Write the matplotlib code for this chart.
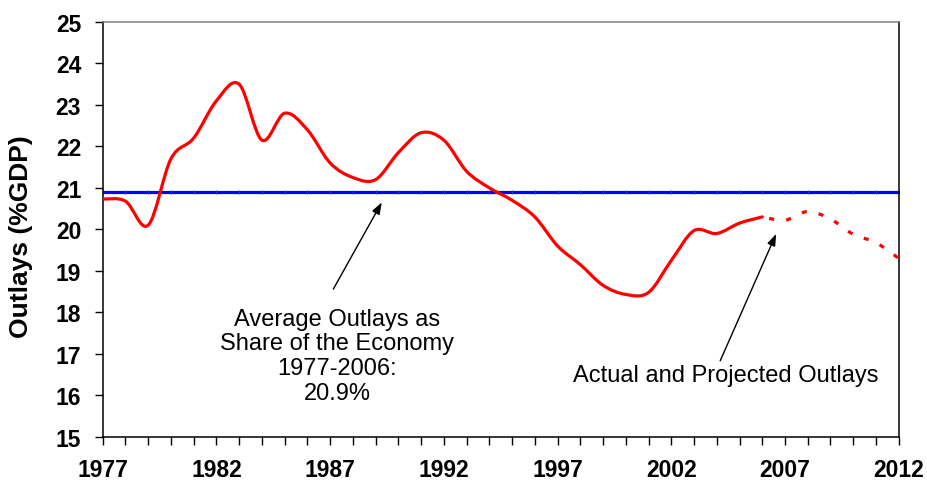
import matplotlib
matplotlib.use("Agg")
import matplotlib.pyplot as plt
from matplotlib.path import Path
from matplotlib.patches import PathPatch
import numpy as np

plt.rcParams['font.family'] = ['Liberation Sans', 'DejaVu Sans']

# ---- data ----
actual_years = list(range(1977, 2007))
actual_outlays = [20.73, 20.68, 20.10, 21.70, 22.20, 23.10, 23.50, 22.15, 22.80, 22.40,
                  21.60, 21.25, 21.20, 21.85, 22.33, 22.15, 21.40, 21.00, 20.70, 20.30,
                  19.60, 19.15, 18.65, 18.43, 18.48, 19.25, 19.97, 19.90, 20.15, 20.30]
proj_years = list(range(2006, 2013))
proj_outlays = [20.30, 20.22, 20.43, 20.25, 19.88, 19.68, 19.30]
avg_value = 20.9
avg_years = list(range(1977, 2013))
xtick_years = list(range(1977, 2013, 5))
ytick_vals = list(range(15, 26))

ann_avg = "Average Outlays as\nShare of the Economy\n1977-2006:\n20.9%"
ann_act = "Actual and Projected Outlays"
ylabel = "Outlays (%GDP)"


def smooth_path(xs, ys):
    xs = np.asarray(xs, float)
    ys = np.asarray(ys, float)
    n = len(xs)
    verts = [(xs[0], ys[0])]
    codes = [Path.MOVETO]
    for i in range(n - 1):
        p0 = np.array([xs[max(i - 1, 0)], ys[max(i - 1, 0)]])
        p1 = np.array([xs[i], ys[i]])
        p2 = np.array([xs[i + 1], ys[i + 1]])
        p3 = np.array([xs[min(i + 2, n - 1)], ys[min(i + 2, n - 1)]])
        c1 = p1 + (p2 - p0) / 6.0
        c2 = p2 - (p3 - p1) / 6.0
        verts += [tuple(c1), tuple(c2), tuple(p2)]
        codes += [Path.CURVE4] * 3
    return Path(verts, codes)


fig = plt.figure(figsize=(9.27, 4.85), dpi=100)
ax = fig.add_axes([0.1108, 0.0975, 0.8587, 0.8551])

# average line
ax.plot(avg_years, [avg_value] * len(avg_years), color='#0000ff', lw=2.3,
        solid_capstyle='butt', zorder=2)
ax.plot(avg_years, [avg_value] * len(avg_years), ls='none', marker='|', ms=3.5,
        mew=0.7, color='#3a3ad0', zorder=2.1)

# actual (solid, smoothed)
ax.add_patch(PathPatch(smooth_path(actual_years, actual_outlays), fill=False,
                       edgecolor='#ff0000', lw=2.3, capstyle='round', joinstyle='round', zorder=3))
# projected (dashed, smoothed)
ax.add_patch(PathPatch(smooth_path(proj_years, proj_outlays), fill=False,
                       edgecolor='#ff0000', lw=2.3, linestyle=(3.2, (1.6, 3.8)),
                       capstyle='butt', zorder=3))

ax.set_xlim(1977, 2012)
ax.set_ylim(15, 25)
ax.set_xticks(xtick_years)
ax.set_xticks(list(range(1977, 2013)), minor=True)
ax.set_yticks(ytick_vals)
ax.tick_params(axis='x', which='both', direction='out', length=5.5, width=1.0,
               color='black', pad=10, labelsize=16.5)
ax.tick_params(axis='y', which='major', direction='out', length=5.5, width=1.0,
               color='black', pad=10, labelsize=16.5)
for lab in ax.get_xticklabels() + ax.get_yticklabels():
    lab.set_fontweight('bold')

ax.set_ylabel(ylabel, fontsize=19, fontweight='bold')
ax.yaxis.set_label_coords(-0.0876, 0.485)

for s in ['left', 'bottom', 'right']:
    ax.spines[s].set_color('black')
    ax.spines[s].set_linewidth(1.1)
ax.spines['top'].set_color('#808080')
ax.spines['top'].set_linewidth(1.1)

arrow_props = dict(arrowstyle='-|>,head_length=0.7,head_width=0.25',
                   color='black', lw=1.0, shrinkA=0, shrinkB=0)
ax.annotate('', xy=(1989.27, 20.65), xytext=(1987.14, 18.56), arrowprops=arrow_props)
ax.text(1987.3, 16.95, ann_avg, ha='center', va='center', fontsize=17, linespacing=1.17)

ax.annotate('', xy=(2006.61, 19.89), xytext=(2004.15, 16.83), arrowprops=arrow_props)
ax.text(2004.39, 16.49, ann_act, ha='center', va='center', fontsize=17)

fig.savefig('out.png', dpi=100)
